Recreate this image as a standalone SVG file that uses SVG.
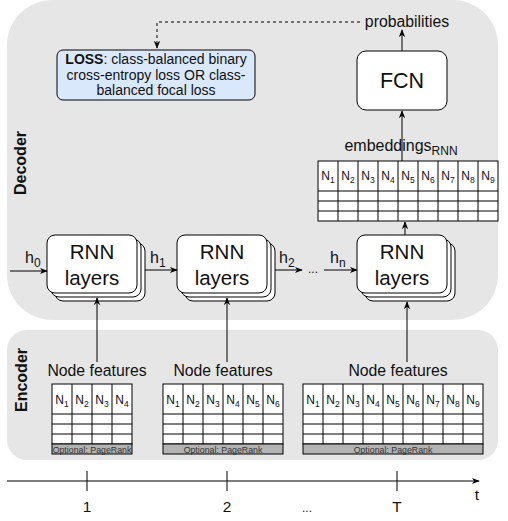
<svg xmlns="http://www.w3.org/2000/svg" width="508" height="521" viewBox="0 0 508 521">
<style>
text{font-family:"Liberation Sans",Arial,sans-serif;fill:#111}
.panel{fill:#e6e6e6;stroke:none}
.box{fill:#fff;stroke:#000;stroke-width:1}
.ln{stroke:#000;stroke-width:1;fill:none}
.cell{fill:#fff;stroke:#000;stroke-width:1}
.n{font-size:12px;text-anchor:middle}
.s{font-size:8.5px}
.big{font-size:20.5px;text-anchor:middle}
.lbl{font-size:15.8px;text-anchor:middle}
.pr{fill:#b3b3b3;stroke:#000;stroke-width:1}
.prt{font-size:8.8px;text-anchor:middle;fill:#333}
.side{font-size:16px;font-weight:bold;text-anchor:middle}
.h{font-size:16px}
.hs{font-size:12px}
</style>
<defs>
<marker id="ah" viewBox="0 0 10 10" refX="9" refY="5" markerWidth="8" markerHeight="8" orient="auto" markerUnits="userSpaceOnUse">
<path d="M0,1 L10,5 L0,9 L3,5 Z" fill="#000"/>
</marker>
</defs>

<g id="decoder-panel">
<rect class="panel" x="7" y="0" width="491" height="320" rx="45" ry="45"/>
<text class="side" transform="translate(26,163) rotate(-90)">Decoder</text>
</g>
<g id="encoder-panel">
<rect class="panel" x="7" y="330" width="491" height="130" rx="20" ry="20"/>
<text class="side" transform="translate(27,380) rotate(-90)">Encoder</text>
</g>

<g id="loss">
<rect x="57" y="50" width="198" height="50" rx="6" ry="6" fill="#dae8fc" stroke="#000"/>
<text x="156" y="64" font-size="14" text-anchor="middle"><tspan font-weight="bold">LOSS</tspan>: class-balanced binary</text>
<text x="156" y="80" font-size="14" text-anchor="middle">cross-entropy loss OR class-</text>
<text x="156" y="95" font-size="14" text-anchor="middle">balanced focal loss</text>
</g>

<g id="probabilities">
<text x="407" y="27" font-size="15.8" text-anchor="middle">probabilities</text>
</g>

<g id="fcn">
<rect class="box" x="357" y="51" width="90" height="59" rx="9" ry="9"/>
<text x="402" y="88" font-size="21.5" text-anchor="middle">FCN</text>
</g>

<g id="embeddings">
<text x="401" y="151" font-size="16" text-anchor="middle">embeddings<tspan font-size="12" dy="4">RNN</tspan></text>
<rect class="cell" x="318" y="161" width="180" height="60"/>
<path class="ln" d="M318,191H498M318,201H498M318,211H498M338,161V221M358,161V221M378,161V221M398,161V221M418,161V221M438,161V221M458,161V221M478,161V221"/>
<text class="n" x="328" y="180">N<tspan class="s" dy="3">1</tspan></text>
<text class="n" x="348" y="180">N<tspan class="s" dy="3">2</tspan></text>
<text class="n" x="368" y="180">N<tspan class="s" dy="3">3</tspan></text>
<text class="n" x="388" y="180">N<tspan class="s" dy="3">4</tspan></text>
<text class="n" x="408" y="180">N<tspan class="s" dy="3">5</tspan></text>
<text class="n" x="428" y="180">N<tspan class="s" dy="3">6</tspan></text>
<text class="n" x="448" y="180">N<tspan class="s" dy="3">7</tspan></text>
<text class="n" x="468" y="180">N<tspan class="s" dy="3">8</tspan></text>
<text class="n" x="488" y="180">N<tspan class="s" dy="3">9</tspan></text>
</g>

<g id="rnn1">
<rect class="box" x="55" y="243" width="90" height="58" rx="8"/>
<rect class="box" x="51" y="239" width="90" height="58" rx="8"/>
<rect class="box" x="47" y="235" width="90" height="58" rx="8"/>
<text class="big" x="92" y="259">RNN</text>
<text class="big" x="92" y="285">layers</text>
</g>
<g id="rnn2">
<rect class="box" x="185" y="243" width="90" height="58" rx="8"/>
<rect class="box" x="181" y="239" width="90" height="58" rx="8"/>
<rect class="box" x="177" y="235" width="90" height="58" rx="8"/>
<text class="big" x="222" y="259">RNN</text>
<text class="big" x="222" y="285">layers</text>
</g>
<g id="rnn3">
<rect class="box" x="365" y="243" width="90" height="58" rx="8"/>
<rect class="box" x="361" y="239" width="90" height="58" rx="8"/>
<rect class="box" x="357" y="235" width="90" height="58" rx="8"/>
<text class="big" x="402" y="259">RNN</text>
<text class="big" x="402" y="285">layers</text>
</g>

<g id="features1">
<text class="lbl" x="97" y="376">Node features</text>
<rect class="cell" x="52" y="384" width="80" height="60"/>
<path class="ln" d="M52,414H132M52,424H132M52,434H132M72,384V444M92,384V444M112,384V444"/>
<text class="n" x="62" y="404">N<tspan class="s" dy="3">1</tspan></text>
<text class="n" x="82" y="404">N<tspan class="s" dy="3">2</tspan></text>
<text class="n" x="102" y="404">N<tspan class="s" dy="3">3</tspan></text>
<text class="n" x="122" y="404">N<tspan class="s" dy="3">4</tspan></text>
<rect class="pr" x="52" y="444" width="80" height="10"/>
<text class="prt" x="92" y="452.5">Optional: PageRank</text>
</g>

<g id="features2">
<text class="lbl" x="223" y="376">Node features</text>
<rect class="cell" x="163" y="384" width="120" height="60"/>
<path class="ln" d="M163,414H283M163,424H283M163,434H283M183,384V444M203,384V444M223,384V444M243,384V444M263,384V444"/>
<text class="n" x="173" y="404">N<tspan class="s" dy="3">1</tspan></text>
<text class="n" x="193" y="404">N<tspan class="s" dy="3">2</tspan></text>
<text class="n" x="213" y="404">N<tspan class="s" dy="3">3</tspan></text>
<text class="n" x="233" y="404">N<tspan class="s" dy="3">4</tspan></text>
<text class="n" x="253" y="404">N<tspan class="s" dy="3">5</tspan></text>
<text class="n" x="273" y="404">N<tspan class="s" dy="3">6</tspan></text>
<rect class="pr" x="163" y="444" width="120" height="10"/>
<text class="prt" x="223" y="452.5">Optional: PageRank</text>
</g>

<g id="features3">
<text class="lbl" x="398" y="376">Node features</text>
<rect class="cell" x="303" y="384" width="180" height="60"/>
<path class="ln" d="M303,414H483M303,424H483M303,434H483M323,384V444M343,384V444M363,384V444M383,384V444M403,384V444M423,384V444M443,384V444M463,384V444"/>
<text class="n" x="313" y="404">N<tspan class="s" dy="3">1</tspan></text>
<text class="n" x="333" y="404">N<tspan class="s" dy="3">2</tspan></text>
<text class="n" x="353" y="404">N<tspan class="s" dy="3">3</tspan></text>
<text class="n" x="373" y="404">N<tspan class="s" dy="3">4</tspan></text>
<text class="n" x="393" y="404">N<tspan class="s" dy="3">5</tspan></text>
<text class="n" x="413" y="404">N<tspan class="s" dy="3">6</tspan></text>
<text class="n" x="433" y="404">N<tspan class="s" dy="3">7</tspan></text>
<text class="n" x="453" y="404">N<tspan class="s" dy="3">8</tspan></text>
<text class="n" x="473" y="404">N<tspan class="s" dy="3">9</tspan></text>
<rect class="pr" x="303" y="444" width="180" height="10"/>
<text class="prt" x="393" y="452.5">Optional: PageRank</text>
</g>

<g id="timeline">
<path class="ln" d="M87,471V491M227,471V491M397,471V491"/>
<text x="87" y="512" font-size="15.5" text-anchor="middle" fill="#333">1</text>
<text x="227" y="512" font-size="15.5" text-anchor="middle" fill="#333">2</text>
<text x="307" y="512" font-size="12" text-anchor="middle" fill="#333">...</text>
<text x="397" y="512" font-size="15.5" text-anchor="middle" fill="#333">T</text>
<text x="477" y="500" font-size="15.5" text-anchor="middle" fill="#333">t</text>
</g>

<g id="connectors">
<path class="ln" d="M7,481H479" marker-end="url(#ah)"/>
<path class="ln" d="M360,22H157V48" stroke-dasharray="3,3" marker-end="url(#ah)"/>
<path class="ln" d="M402,51V30" marker-end="url(#ah)"/>
<path class="ln" d="M402,161V111" marker-end="url(#ah)"/>
<path class="ln" d="M405,235V222" marker-end="url(#ah)"/>
<path class="ln" d="M10,271H47" marker-end="url(#ah)"/>
<path class="ln" d="M145,270H177" marker-end="url(#ah)"/>
<path class="ln" d="M275,270H302" marker-end="url(#ah)"/>
<path class="ln" d="M324,270H357" marker-end="url(#ah)"/>
<path class="ln" d="M97,362V298" marker-end="url(#ah)"/>
<path class="ln" d="M227,362V298" marker-end="url(#ah)"/>
<path class="ln" d="M407,362V302" marker-end="url(#ah)"/>
<text class="h" x="25" y="263">h<tspan class="hs" dy="4">0</tspan></text>
<text class="h" x="150" y="263">h<tspan class="hs" dy="4">1</tspan></text>
<text class="h" x="279" y="263">h<tspan class="hs" dy="4">2</tspan></text>
<text class="h" x="330" y="263">h<tspan class="hs" dy="4">n</tspan></text>
<text x="313" y="273" font-size="12" text-anchor="middle">...</text>
</g>
</svg>
